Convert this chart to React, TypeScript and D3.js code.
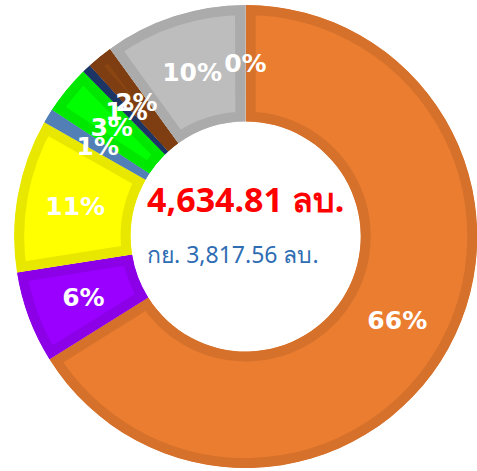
import { useEffect, useRef } from 'react';
import * as d3 from 'd3';

// slices clockwise from 12 o'clock (values in ลบ.)
const sliceNames = ['A', 'B', 'C', 'D', 'E', 'F', 'G', 'H', 'I'];
const sliceValues = [3063.5, 297.1, 496.2, 46.4, 158.3, 28.1, 83.4, 459.61, 2.2];
const sliceColors = ['#EB7D30', '#9A00FF', '#FFFF00', '#5B8DC9', '#00FF00', '#1F3B70', '#8B4513', '#BDBDBD', '#BDBDBD'];
const prevLabel = 'กย.';
const prevTotal = 3817.56;
const unit = 'ลบ.';

export default function App() {
  const svgRef = useRef<SVGSVGElement>(null);

  useEffect(() => {
    if (!svgRef.current) return;

    const width = 477;
    const height = 471;
    const cx = 245.7;
    const cy = 236.5;
    const outerR = 231.5;
    const innerR = 115;

    d3.select(svgRef.current).selectAll('*').remove();

    const svg = d3.select(svgRef.current)
      .attr('width', width)
      .attr('height', height);

    const g = svg.append('g').attr('transform', `translate(${cx},${cy})`);

    const data = sliceNames.map((name, i) => ({ name, value: sliceValues[i], color: sliceColors[i] }));
    const total = d3.sum(sliceValues);

    const pie = d3.pie<any>().sort(null).value(d => d.value);
    const arc = d3.arc<any>().innerRadius(innerR).outerRadius(outerR);
    const arcs = pie(data);

    // each slice gets an inner border: stroke clipped to its own shape
    const defs = svg.append('defs');
    arcs.forEach((a, i) => {
      defs.append('clipPath')
        .attr('id', `slice-clip-${i}`)
        .append('path')
        .attr('d', arc(a) as string);
    });

    g.selectAll('.slice')
      .data(arcs)
      .enter()
      .append('path')
      .attr('class', 'slice')
      .attr('d', d => arc(d) as string)
      .attr('clip-path', (_d, i) => `url(#slice-clip-${i})`)
      .attr('fill', d => d.data.color)
      .attr('stroke', d => d3.color(d.data.color)!.darker(0.28).formatHex())
      .attr('stroke-width', 20)
      .attr('stroke-linejoin', 'miter');

    g.selectAll('.label')
      .data(arcs)
      .enter()
      .append('text')
      .attr('class', 'label')
      .attr('transform', d => `translate(${arc.centroid(d)})`)
      .attr('text-anchor', 'middle')
      .attr('dy', '0.36em')
      .style('font-family', '"DejaVu Sans", Verdana, sans-serif')
      .style('font-size', '25px')
      .style('font-weight', 'bold')
      .attr('fill', '#ffffff')
      .text(d => `${Math.round((d.data.value / total) * 100)}%`);

    const main = g.append('text')
      .attr('x', 0)
      .attr('y', -25)
      .attr('text-anchor', 'middle')
      .style('font-family', '"Noto Sans", sans-serif')
      .style('font-size', '34px')
      .style('font-weight', 'bold')
      .attr('fill', '#FF0000')
      .text(`${d3.format(',.2f')(total)} ${unit}`);

    const box = (main.node() as SVGTextElement).getBBox();

    g.append('text')
      .attr('x', box.x)
      .attr('y', 26.5)
      .attr('text-anchor', 'start')
      .style('font-family', '"Noto Sans", sans-serif')
      .style('font-size', '23px')
      .attr('fill', '#2F6DB3')
      .text(`${prevLabel} ${d3.format(',.2f')(prevTotal)} ${unit}`);
  }, []);

  return (
    <svg
      ref={svgRef}
      style={{ position: 'absolute', left: 0, top: 0, display: 'block' }}
    ></svg>
  );
}
